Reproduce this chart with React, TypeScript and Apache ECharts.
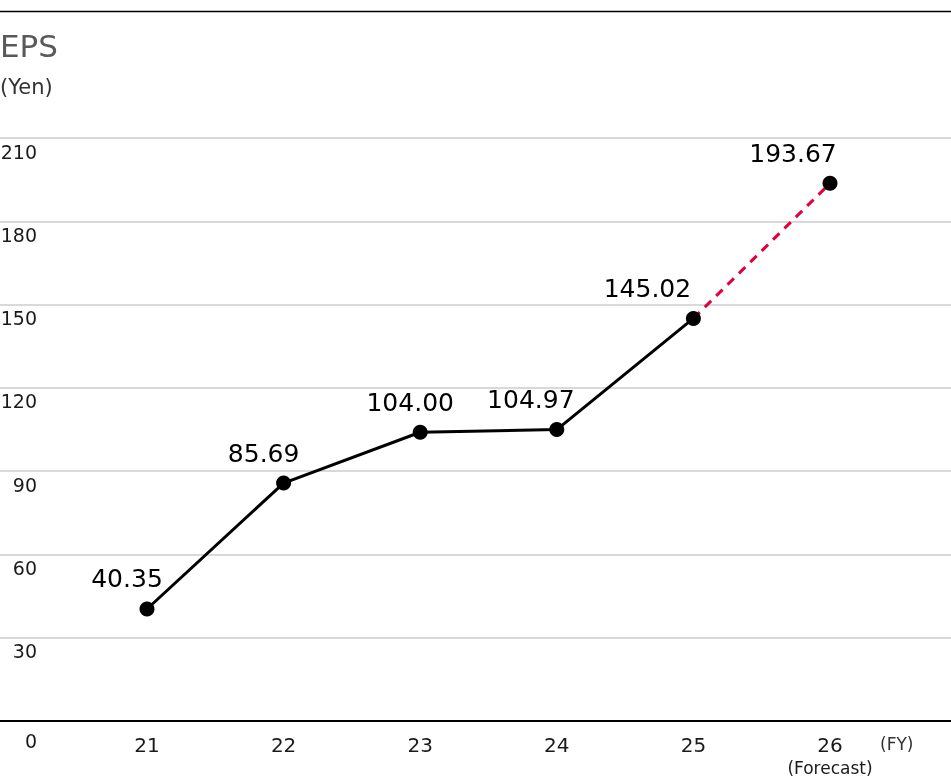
import React, { useEffect, useRef } from "react";
import * as echarts from "echarts";

const categories = ["21", "22", "23", "24", "25", "26"];
const epsValues = [40.35, 85.69, 104.0, 104.97, 145.02, 193.67];
const actualValues = [40.35, 85.69, 104.0, 104.97, 145.02, null];
const forecastValues = [null, null, null, null, 145.02, 193.67];
const labelTexts = ["40.35", "85.69", "104.00", "104.97", "145.02", "193.67"];
const labelShiftX = [-20, -20, -10, -26, -46, -37];
const yTicks = { min: 0, max: 210, interval: 30 };

const FONT = "DejaVu Sans";

export default function App() {
  const ref = useRef<HTMLDivElement>(null);
  useEffect(() => {
    document.body.style.margin = "0";
    const chart = echarts.init(ref.current!, undefined, { renderer: "svg" });
    const option: any = {
      animation: false,
      textStyle: { fontFamily: FONT },
      grid: [
        { left: 0, right: 0, top: 138, bottom: 58, outerBoundsMode: "none", containLabel: false },
        { left: 78.7, right: 52.7, top: 138, bottom: 58, outerBoundsMode: "none", containLabel: false },
      ],
      xAxis: [
        {
          gridIndex: 0,
          type: "value",
          min: 0,
          max: 1,
          axisLine: { show: true, onZero: false, lineStyle: { color: "#000", width: 2 } },
          axisTick: { show: false },
          axisLabel: { show: false },
          splitLine: { show: false },
        },
        {
          gridIndex: 1,
          type: "category",
          data: categories,
          boundaryGap: true,
          axisLine: { show: false },
          axisTick: { show: false },
          splitLine: { show: false },
          axisLabel: {
            interval: 0,
            margin: 13,
            color: "#1a1a1a",
            fontSize: 20,
            lineHeight: 22,
            fontFamily: FONT,
            formatter: (v: string) => (v === "26" ? "26\n{f|(Forecast)}" : v),
            rich: { f: { fontSize: 17, lineHeight: 24, color: "#1a1a1a", fontFamily: FONT } },
          },
        },
      ],
      yAxis: [
        {
          gridIndex: 0,
          type: "value",
          min: yTicks.min,
          max: yTicks.max,
          interval: yTicks.interval,
          axisLine: { show: false },
          axisTick: { show: false },
          splitLine: { show: true, lineStyle: { color: "#d9d9d9", width: 2 } },
          axisLabel: {
            margin: -37,
            align: "right",
            verticalAlign: "top",
            formatter: (v: number) => (v === 0 ? "{z|0}" : "{n|" + v + "}"),
            rich: {
              n: { fontSize: 19, lineHeight: 19, padding: [8, 0, 0, 0], color: "#1a1a1a", fontFamily: FONT },
              z: { fontSize: 19, lineHeight: 19, padding: [20, 0, 0, 0], color: "#1a1a1a", fontFamily: FONT },
            },
          },
        },
        {
          gridIndex: 1,
          type: "value",
          min: yTicks.min,
          max: yTicks.max,
          interval: yTicks.interval,
          show: false,
          splitLine: { show: false },
        },
      ],
      series: [
        {
          type: "line",
          xAxisIndex: 1,
          yAxisIndex: 1,
          data: actualValues,
          symbol: "none",
          lineStyle: { color: "#000", width: 3 },
          z: 3,
        },
        {
          type: "line",
          xAxisIndex: 1,
          yAxisIndex: 1,
          data: forecastValues,
          symbol: "none",
          lineStyle: { color: "#e4003a", width: 3, type: [9, 7] },
          z: 2,
        },
        {
          type: "scatter",
          xAxisIndex: 1,
          yAxisIndex: 1,
          symbol: "circle",
          symbolSize: 15,
          itemStyle: { color: "#000", opacity: 1 },
          emphasis: { disabled: true },
          z: 4,
          data: epsValues.map((v, i) => ({
            value: v,
            label: {
              show: true,
              position: "top",
              distance: 10,
              offset: [labelShiftX[i], 0],
              formatter: labelTexts[i],
              fontSize: 25,
              color: "#000",
              opacity: 1,
              fontFamily: FONT,
            },
          })),
        },
      ],
      graphic: [
        {
          type: "line",
          shape: { x1: 0, y1: 11.5, x2: 951, y2: 11.5 },
          style: { stroke: "#000", lineWidth: 1.5 },
        },
        {
          type: "text",
          left: 0,
          top: 30,
          style: { text: "EPS", fontSize: 31, fill: "#595959", fontFamily: FONT },
        },
        {
          type: "text",
          left: 0,
          top: 76,
          style: { text: "(Yen)", fontSize: 21, fill: "#333", fontFamily: FONT },
        },
        {
          type: "text",
          left: 880,
          top: 735,
          style: { text: "(FY)", fontSize: 17, fill: "#333", fontFamily: FONT },
        },
      ],
    };
    chart.setOption(option);
    return () => chart.dispose();
  }, []);
  return <div ref={ref} style={{ position: "fixed", left: 0, top: 0, width: 951, height: 779 }} />;
}
